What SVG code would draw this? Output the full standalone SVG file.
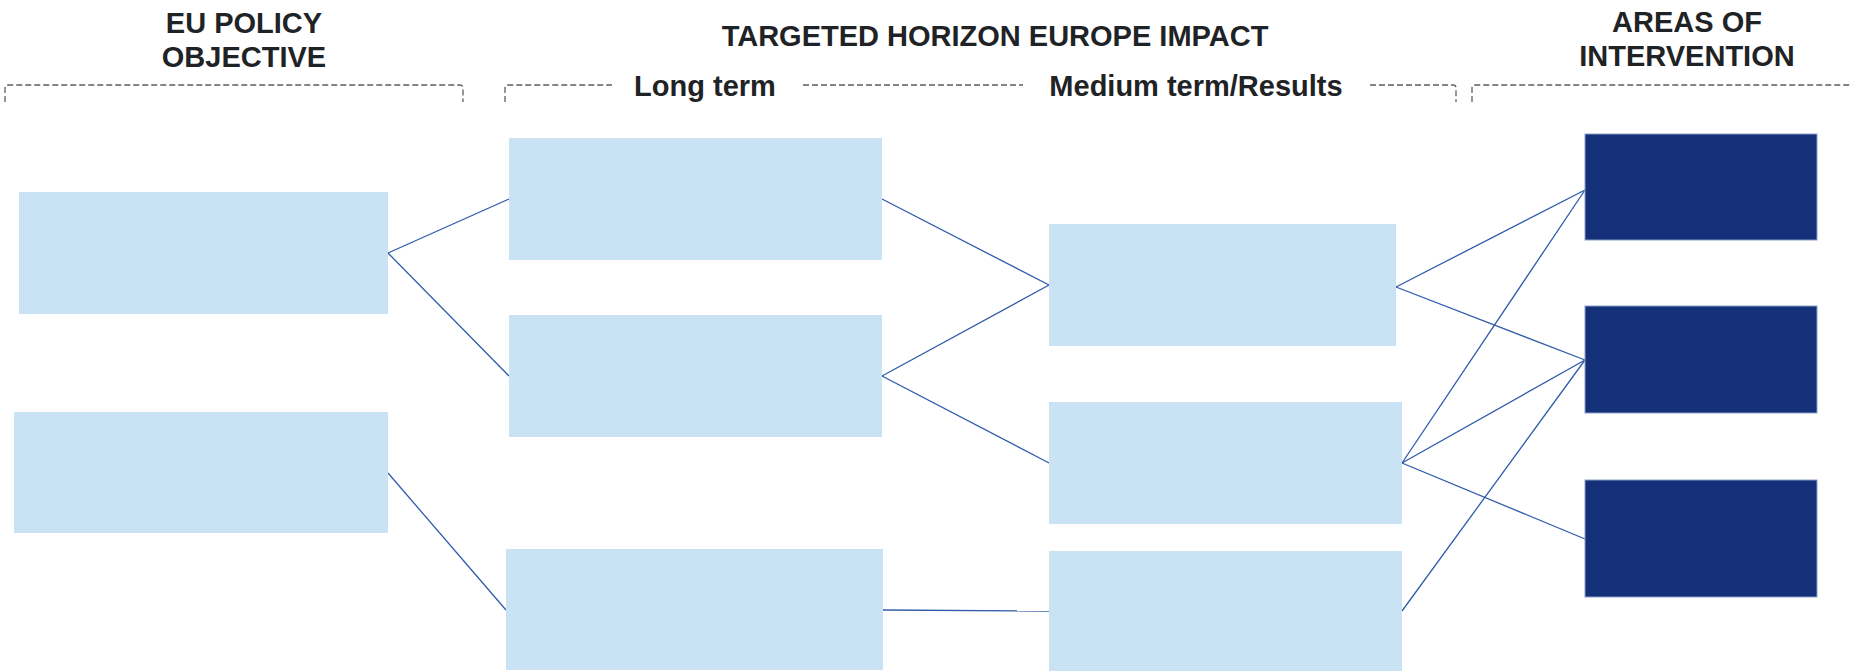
<svg xmlns="http://www.w3.org/2000/svg" width="1852" height="671" viewBox="0 0 1852 671">
<style>
.hdr{font-family:"Liberation Sans",Arial,sans-serif;font-weight:bold;font-size:29px;fill:#1f2326;text-anchor:middle}
.br{fill:none;stroke:#5a5f66;stroke-width:1.3;stroke-dasharray:6 3}
.lt{fill:#c9e3f5}
.dk{fill:#143078;stroke:#8aa0c8;stroke-width:1}
.cn line{stroke:#2f5bab;stroke-width:1.3}
</style>
<rect width="1852" height="671" fill="#ffffff"/>
<g id="headers">
<text class="hdr" x="244" y="33">EU POLICY</text>
<text class="hdr" x="244" y="67">OBJECTIVE</text>
<text class="hdr" x="995" y="46">TARGETED HORIZON EUROPE IMPACT</text>
<text class="hdr" x="705" y="96">Long term</text>
<text class="hdr" x="1196" y="96">Medium term/Results</text>
<text class="hdr" x="1687" y="32">AREAS OF</text>
<text class="hdr" x="1687" y="66">INTERVENTION</text>
</g>
<g id="brackets">
<path class="br" d="M5,102 V88 Q5,85 8,85 H460 Q463,85 463,88 V102"/>
<path class="br" d="M505,102 V88 Q505,85 508,85 H612"/>
<path class="br" d="M803,85 H1023"/>
<path class="br" d="M1370,85 H1453 Q1456,85 1456,88 V102"/>
<path class="br" d="M1472,102 V88 Q1472,85 1475,85 H1852"/>
</g>
<g id="connectors" class="cn">
<line x1="388" y1="253" x2="509" y2="199"/>
<line x1="388" y1="253" x2="509" y2="376"/>
<line x1="388" y1="473" x2="506" y2="610"/>
<line x1="882" y1="199" x2="1049" y2="285"/>
<line x1="882" y1="376" x2="1049" y2="285"/>
<line x1="882" y1="376" x2="1049" y2="463"/>
<line x1="883" y1="610" x2="1049" y2="611"/>
<line x1="1396" y1="287" x2="1585" y2="190"/>
<line x1="1396" y1="287" x2="1585" y2="360"/>
<line x1="1402" y1="463" x2="1585" y2="190"/>
<line x1="1402" y1="463" x2="1585" y2="360"/>
<line x1="1402" y1="463" x2="1585" y2="539"/>
<line x1="1402" y1="611" x2="1585" y2="360"/>
</g>
<g id="A1"><rect class="lt" x="19" y="192" width="369" height="122"/></g>
<g id="A2"><rect class="lt" x="14" y="412" width="374" height="121"/></g>
<g id="B1"><rect class="lt" x="509" y="138" width="373" height="122"/></g>
<g id="B2"><rect class="lt" x="509" y="315" width="373" height="122"/></g>
<g id="B3"><rect class="lt" x="506" y="549" width="377" height="121"/></g>
<g id="C1"><rect class="lt" x="1049" y="224" width="347" height="122"/></g>
<g id="C2"><rect class="lt" x="1049" y="402" width="353" height="122"/></g>
<g id="C3"><rect class="lt" x="1049" y="551" width="353" height="120"/></g>
<g id="D1"><rect class="dk" x="1585" y="134" width="232" height="106"/></g>
<g id="D2"><rect class="dk" x="1585" y="306" width="232" height="107"/></g>
<g id="D3"><rect class="dk" x="1585" y="480" width="232" height="117"/></g>
</svg>
